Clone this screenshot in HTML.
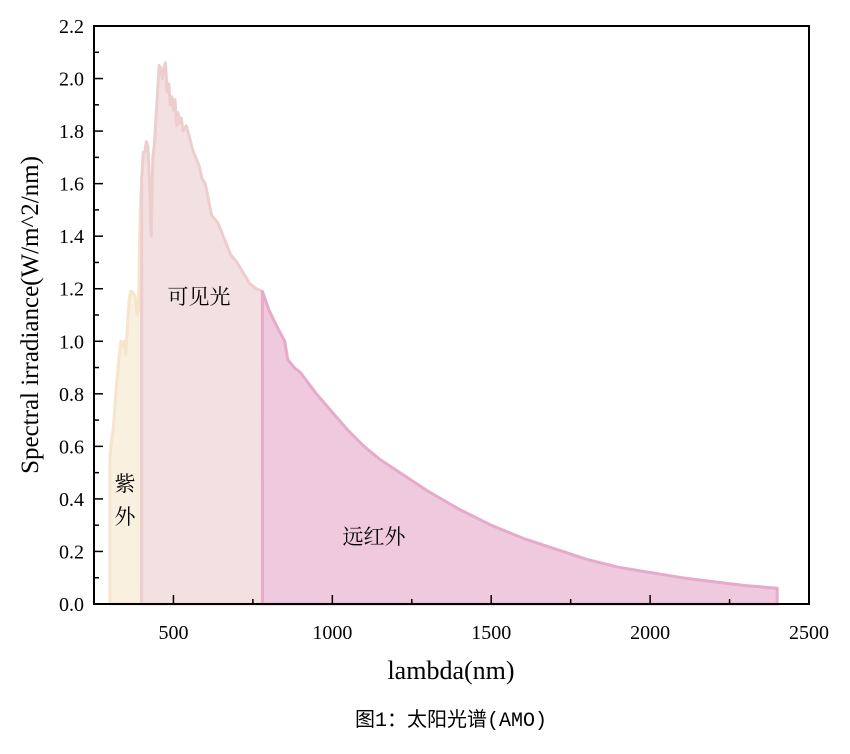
<!DOCTYPE html>
<html><head><meta charset="utf-8"><style>
body{margin:0;background:#fff;width:850px;height:749px;overflow:hidden}
text{font-family:"Liberation Serif","Noto Serif CJK SC",serif}
</style></head><body>
<svg id="c" width="850" height="749"></svg>
<script>
const uvX=[300,305,310,320,330,335,340,345,350,355,360,365,370,375,380,385,390,395,400];
const uvY=[0.55,0.62,0.66,0.82,0.95,1.0,0.98,1.0,0.95,1.05,1.15,1.19,1.19,1.18,1.17,1.1,1.12,1.5,1.62];
const visX=[400,405,410,415,420,425,430,435,440,450,455,460,465,470,475,480,485,490,495,500,505,510,515,520,525,530,540,550,560,570,580,590,600,620,640,660,680,700,720,740,760,780];
const visY=[1.62,1.72,1.72,1.76,1.74,1.6,1.4,1.7,1.75,1.95,2.05,2.04,2.0,2.04,2.06,1.95,1.98,1.9,1.93,1.88,1.92,1.82,1.87,1.83,1.85,1.8,1.82,1.78,1.73,1.7,1.67,1.62,1.6,1.48,1.45,1.39,1.33,1.3,1.26,1.22,1.2,1.19];
const irX=[780,800,820,850,860,880,900,950,1000,1050,1100,1150,1200,1300,1400,1500,1600,1700,1800,1900,2000,2100,2200,2300,2400];
const irY=[1.19,1.12,1.07,1.0,0.93,0.9,0.88,0.8,0.73,0.66,0.6,0.55,0.51,0.43,0.36,0.3,0.25,0.21,0.17,0.14,0.12,0.1,0.085,0.07,0.06];
const xTicks=[500,1000,1500,2000,2500];
const yTicks=[0,0.2,0.4,0.6,0.8,1.0,1.2,1.4,1.6,1.8,2.0,2.2];
const L=94,R=809,T=26,B=604,x0=250,x1=2500,y1=2.2;
const sx=v=>L+(v-x0)/(x1-x0)*(R-L), sy=v=>B-v/y1*(B-T);
const svg=document.getElementById('c'),NS='http://www.w3.org/2000/svg';
function mk(t,a,p){const e=document.createElementNS(NS,t);for(const k in a)e.setAttribute(k,a[k]);(p||svg).appendChild(e);return e;}
function area(xs,ys,fill,stroke,name){
  let d='M'+sx(xs[0])+','+sy(0);
  xs.forEach((x,i)=>d+=' L'+sx(x).toFixed(1)+','+sy(ys[i]).toFixed(1));
  d+=' L'+sx(xs[xs.length-1])+','+sy(0)+'Z';
  const p=mk('path',{d:d,fill:fill,stroke:stroke,'stroke-width':3,'stroke-linejoin':'round'});
  
  
}
area(uvX,uvY,'#faf0e0','#f6e5cc','uv-area');
area(visX,visY,'#f3e0e1','#edcdcd','visible-area');
area(irX,irY,'#efcade','#e6aacb','infrared-area');
const fr=mk('rect',{x:L,y:T,width:R-L,height:B-T,fill:'none',stroke:'#000','stroke-width':2});


for(let v=0;v<=2.2001;v+=0.1){const y=sy(v);const major=Math.round(v*10)%2===0;mk('line',{x1:L,x2:L+(major?9:5),y1:y,y2:y,stroke:'#000','stroke-width':1.5});}
yTicks.forEach(v=>{const t=mk('text',{x:L-10,y:sy(v)+7,'text-anchor':'end','font-size':20});t.textContent=v.toFixed(1);

});
for(let v=500;v<=2500;v+=250){const x=sx(v);const major=v%500===0;mk('line',{x1:x,x2:x,y1:B,y2:B-(major?9:5),stroke:'#000','stroke-width':1.5});}
xTicks.forEach(v=>{const t=mk('text',{x:sx(v),y:B+35,'text-anchor':'middle','font-size':20});t.textContent=v;

});
function label(txt,x,y,fs,name,extra){const t=mk('text',Object.assign({x:x,y:y,'font-size':fs,'text-anchor':'middle'},extra||{}));t.textContent=txt;

return t;}
label('lambda(nm)',451,679,26,'x-axis-title');
label('Spectral irradiance(W/m^2/nm)',0,0,25,'y-axis-title',{transform:'translate(38,315) rotate(-90)'});
label('紫',125,491,21,'uv-label-1');
label('外',125,524,21,'uv-label-2');
label('可见光',199,304,21,'visible-label');
label('远红外',374,544,21,'infrared-label');
const c=label('图1：太阳光谱(AMO)',451,726,20,'figure-caption');
c.setAttribute('style','font-family:"Liberation Mono","Noto Sans CJK SC",monospace');
</script>
</body></html>
